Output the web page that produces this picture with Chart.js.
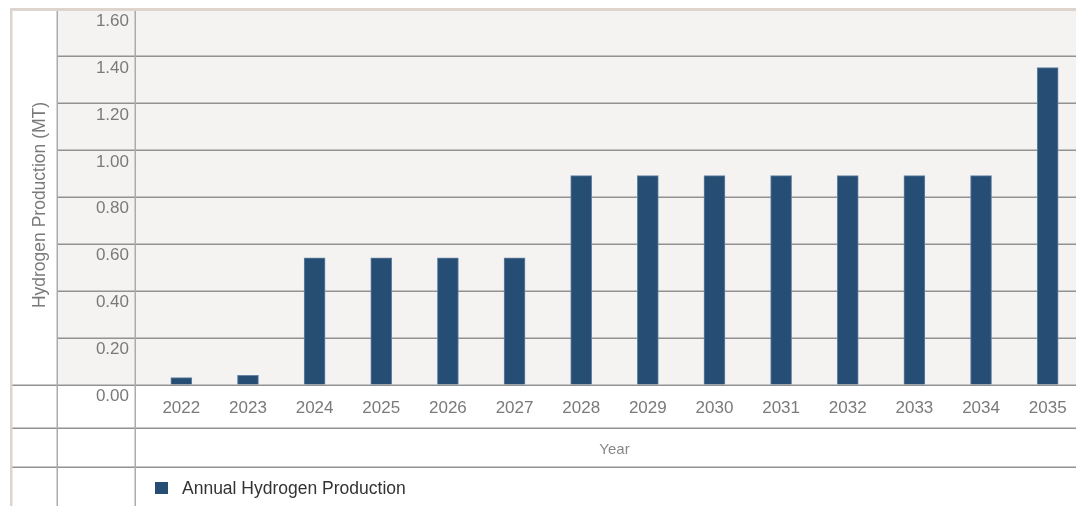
<!DOCTYPE html>
<html>
<head>
<meta charset="utf-8">
<script src="https://cdn.jsdelivr.net/npm/chart.js@4/dist/chart.umd.min.js"></script>
<style>
  html, body { margin:0; padding:0; background:#fff; overflow:hidden; }
  #wrap { position:relative; width:1090px; height:506px; }
</style>
</head>
<body>
<div id="wrap"><canvas id="h2Chart"></canvas></div>
<script>
/* ── Annual hydrogen production chart ─────────────────── */
const years      = ["2022","2023","2024","2025","2026","2027","2028","2029","2030","2031","2032","2033","2034","2035"];
const production = [0.03, 0.04, 0.54, 0.54, 0.54, 0.54, 0.89, 0.89, 0.89, 0.89, 0.89, 0.89, 0.89, 1.35];
const yMin = 0, yMax = 1.6, yStep = 0.2;

const seriesLabel = "Annual Hydrogen Production";
const xTitle      = "Year";
const yTitle      = "Hydrogen Production (MT)";

const barColor   = "#264e75";
const barEdge    = "#6583a3";
const plotBg     = "#f4f3f1";
const gridColor  = "#929292";
const colColor   = "#ababab";
const frameColor = "#ddd5cd";
const fontFam    = "'Liberation Sans', Arial, Helvetica, sans-serif";

// table-like frame behind the plot: shaded area, row lines, column lines
const tableFrame = {
  id: "tableFrame",
  beforeDraw(chart) {
    const { ctx, width, scales: { y } } = chart;
    const topY  = y.getPixelForValue(yMax);
    const zeroY = y.getPixelForValue(yMin);
    ctx.save();
    ctx.fillStyle = plotBg;
    ctx.fillRect(57, topY, width - 57, zeroY - topY);
    ctx.restore();
  },
  beforeDatasetsDraw(chart) {
    const { ctx, width, height, scales: { y } } = chart;
    const topY = y.getPixelForValue(yMax);
    ctx.save();
    ctx.strokeStyle = gridColor;
    ctx.lineWidth = 1.5;
    y.ticks.forEach(t => {
      const py = Math.round(y.getPixelForValue(t.value)) + 0.25;
      ctx.beginPath();
      ctx.moveTo(t.value === yMin ? 12 : 57, py);
      ctx.lineTo(width, py);
      ctx.stroke();
    });
    [428, 467].forEach(py => {
      ctx.beginPath(); ctx.moveTo(12, py + 0.25); ctx.lineTo(width, py + 0.25); ctx.stroke();
    });
    ctx.strokeStyle = colColor;
    [57, 135].forEach(px => {
      ctx.beginPath(); ctx.moveTo(px + 0.25, topY); ctx.lineTo(px + 0.25, height); ctx.stroke();
    });
    ctx.fillStyle = frameColor;
    ctx.fillRect(10, 8, 2.5, height - 8);
    ctx.fillRect(10, 8, width - 10, 3);
    ctx.restore();
  },
  afterDraw(chart) {
    const { ctx, height, chartArea } = chart;
    const ds = chart.data.datasets[0];
    ctx.save();
    // legend row
    const bx = chartArea.left + 7, by = height - 24;
    ctx.fillStyle = ds.backgroundColor;
    ctx.fillRect(bx, by, 13, 12);
    ctx.fillStyle = "#333";
    ctx.font = "17.5px " + fontFam;
    ctx.textBaseline = "middle";
    ctx.fillText(ds.label, bx + 27, by + 7.5);
    // y axis title, centred on the upper table block
    ctx.translate(40, 205);
    ctx.rotate(-Math.PI / 2);
    ctx.textAlign = "center";
    ctx.fillStyle = "#7a7a7a";
    ctx.fillText(yTitle, 0, 0);
    ctx.restore();
  }
};

new Chart(document.getElementById("h2Chart").getContext("2d"), {
  type: "bar",
  data: {
    labels: years,
    datasets: [
      { label: seriesLabel, data: production, backgroundColor: barColor, borderColor: barEdge,
        borderWidth: 1, borderSkipped: "start", barThickness: 21 }
    ]
  },
  options: {
    responsive: true, maintainAspectRatio: false, animation: false,
    layout: { padding: { top: 9, right: 9, bottom: 39, left: 0 } },
    plugins: { legend: { display: false }, tooltip: { enabled: false } },
    scales: {
      x: {
        grid: { display: false, drawTicks: false }, border: { display: false },
        ticks: { color: "#7a7a7a", font: { family: fontFam, size: 17 }, padding: 14, maxRotation: 0 },
        title: { display: true, text: xTitle, color: "#888", font: { family: fontFam, size: 15 }, padding: { top: 8, bottom: 8 } },
        afterFit: s => { s.paddingLeft = 0; s.paddingRight = 0; }
      },
      y: {
        min: yMin, max: yMax,
        grid: { display: false, drawTicks: false }, border: { display: false },
        ticks: { stepSize: yStep, color: "#7a7a7a", font: { family: fontFam, size: 17 }, padding: 19, labelOffset: 12,
                 callback: v => Number(v).toFixed(2) },
        title: { display: false },
        afterFit: s => { s.width = 148; s.paddingTop = 0; s.paddingBottom = 0; }
      }
    }
  },
  plugins: [tableFrame]
});
</script>
</body>
</html>
